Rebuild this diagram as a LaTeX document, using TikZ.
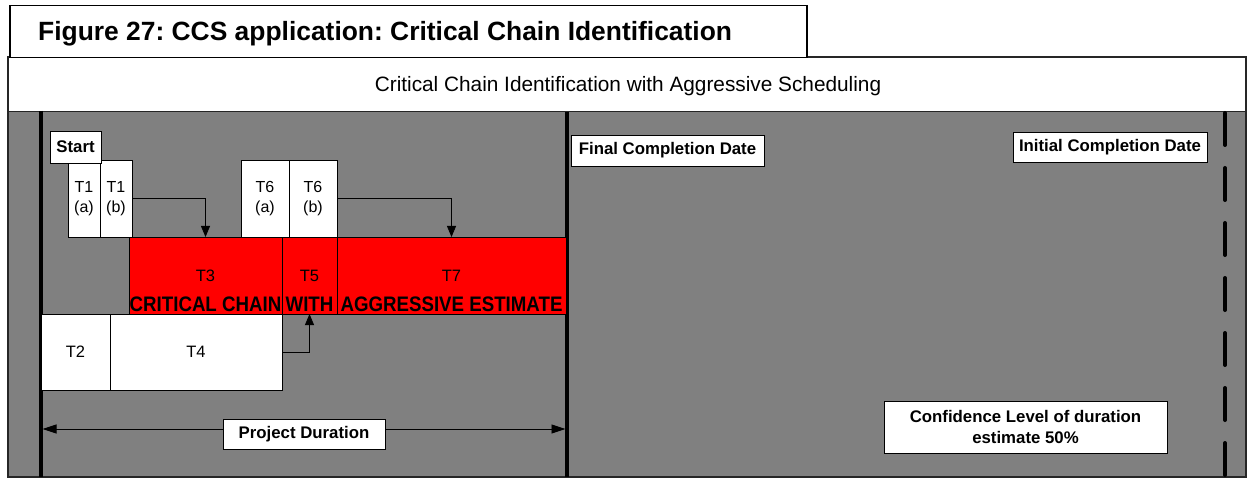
\documentclass[tikz,border=0pt]{standalone}
\usepackage{fontspec}
\setmainfont{Liberation Sans}
\usetikzlibrary{arrows.meta}
\frenchspacing
\definecolor{panelgray}{RGB}{128,128,128}
\definecolor{chainred}{RGB}{255,0,0}
\newcommand{\fsz}[2]{\fontsize{#1}{#2}\selectfont}
\newcommand{\narrow}[1]{\scalebox{0.89}[1]{#1}}
\begin{document}
\begin{tikzpicture}[x=1pt,y=-1pt,
  tbox/.style={draw=black,line width=0.8pt,fill=white,inner sep=0pt,outer sep=0pt,
    anchor=north west,align=center,font=\fsz{16}{20.5}},
  redbox/.style={tbox,fill=chainred,font=\fsz{16.5}{19}},
  tagbox/.style={draw=black,line width=0.8pt,fill=white,inner sep=0pt,outer sep=0pt,
    anchor=north west,align=center,font=\bfseries\fsz{16.8}{21}},
  caption/.style={anchor=south,inner sep=0pt,yshift=2pt,font=\bfseries\fsz{21}{21}},
  thick line/.style={line width=3.5pt,black},
  link/.style={line width=0.8pt,-{Triangle[length=11pt,width=9pt]}},
  span/.style={line width=0.8pt,{Triangle[length=14pt,width=9pt]}-{Triangle[length=14pt,width=9pt]}}]
\useasboundingbox (0,0) rectangle (1249,478);

% panel: white heading band over a grey field
\fill[white] (8,57) rectangle (1246,112);
\fill[panelgray] (8,112) rectangle (1246,477);
\draw[black!85,line width=1pt] (8,112) -- (1246,112);
\draw[black!85,line width=1.2pt] (8,57) rectangle (1246,477);
\node[anchor=base,inner sep=0pt,font=\fsz{20.8}{24}] (head) at (628,92)
  {Critical Chain Identification with Aggressive Scheduling};

% figure title tab
\node[draw=black,line width=1.5pt,fill=white,inner sep=0pt,anchor=north west,
  minimum width=797pt,minimum height=52pt] (titlebox) at (9,5) {};
\node[anchor=base west,inner sep=0pt,font=\bfseries\fsz{26.4}{30}] (title) at (38,41)
  {Figure 27: CCS application: Critical Chain Identification};

% date markers
\draw[thick line] (41,111) -- (41,477);
\draw[thick line] (567,112) -- (567,477);
\draw[line width=4pt,line cap=round,dash pattern=on 32pt off 23pt] (1225,113) -- (1225,477);

% upper task blocks
\node[tbox,minimum width=32pt,minimum height=77pt] (t1a) at (68,160) {T1\\(a)};
\node[tbox,minimum width=32pt,minimum height=77pt] (t1b) at (100,160) {T1\\(b)};
\node[tbox,minimum width=48pt,minimum height=77pt] (t6a) at (241,160) {T6\\(a)};
\node[tbox,minimum width=48pt,minimum height=77pt] (t6b) at (289,160) {T6\\(b)};
\node[tagbox,minimum width=51pt,minimum height=32pt] (start) at (50,131) {Start};

% critical chain
\node[redbox,minimum width=153pt,minimum height=77pt,
  label={[caption]south:\narrow{CRITICAL CHAIN}}] (t3) at (129,237) {T3};
\node[redbox,minimum width=55pt,minimum height=77pt,
  label={[caption]south:\narrow{WITH}}] (t5) at (282,237) {T5};
\node[redbox,minimum width=229pt,minimum height=77pt,
  label={[caption]south:\narrow{AGGRESSIVE ESTIMATE}}] (t7) at (337,237) {T7};

% lower task blocks
\node[tbox,font=\fsz{16.5}{19},minimum width=69pt,minimum height=76pt] (t2) at (41,314) {T2};
\node[tbox,font=\fsz{16.5}{19},minimum width=172pt,minimum height=76pt] (t4) at (110,314) {T4};

% dependencies
\draw[link] (t1b.east) -| (t3.north);
\draw[link] (t6b.east) -| (t7.north);
\draw[link] (t4.east) -| (t5.south);

% labels of the date markers
\node[tagbox,minimum width=193pt,minimum height=31pt] (final) at (571,135) {Final Completion Date};
\node[tagbox,minimum width=194pt,minimum height=30pt] (initial) at (1013,132) {Initial Completion Date};
\node[tagbox,minimum width=283pt,minimum height=52pt] (conf) at (884,401)
  {Confidence Level of duration\\estimate 50\%};

% project duration span
\coordinate (spanL) at (42.5,429);
\coordinate (spanR) at (565.5,429);
\draw[span] (spanL) -- (spanR);
\node[tagbox,anchor=center,minimum width=162pt,minimum height=30pt] (dur) at (304,434) {Project Duration};
\end{tikzpicture}
\end{document}
